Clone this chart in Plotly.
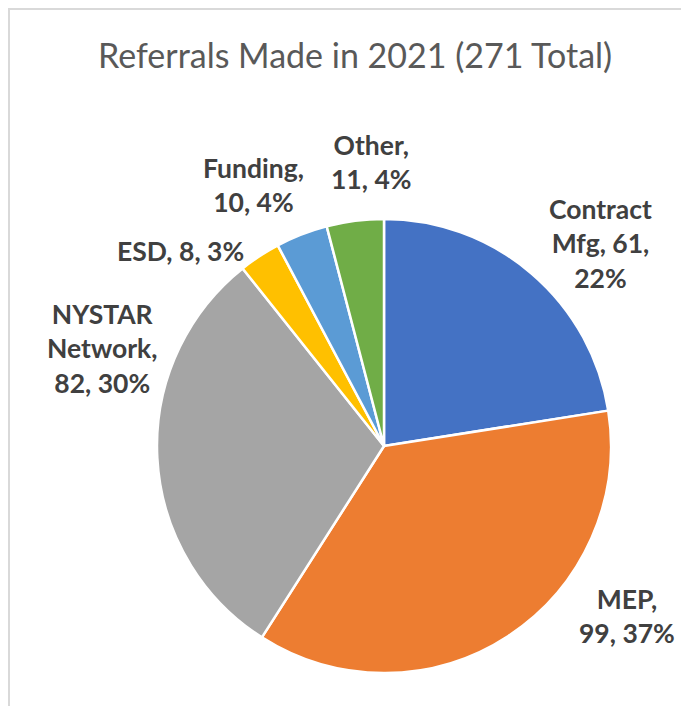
import plotly.graph_objects as go

W, H = 689, 706
OFF = 8  # page body margin offset

categories = ["Contract Mfg", "MEP", "NYSTAR Network", "ESD", "Funding", "Other"]
values = [61, 99, 82, 8, 10, 11]
pct_labels = ["22%", "37%", "30%", "3%", "4%", "4%"]
colors = ["#4472C4", "#ED7D31", "#A5A5A5", "#FFC000", "#5B9BD5", "#70AD47"]
title_text = "Referrals Made in 2021 (271 Total)"

# label text layout (line breaks as in the reference)
label_texts = [
    "Contract<br>Mfg, {v},<br>{p}",
    "MEP,<br>{v}, {p}",
    "NYSTAR<br>Network,<br>{v}, {p}",
    "ESD, {v}, {p}",
    "Funding,<br>{v}, {p}",
    "Other,<br>{v}, {p}",
]
# label centers in window pixels (x, y from top)
label_pos = [(600, 243), (627, 616), (102, 348), (181, 251), (253, 185), (371, 162)]

cx, cy, r = 384 - OFF, 446 - OFF, 227


def px(x):
    return (x - OFF) / W


def py(y):
    return 1 - (y - OFF) / H


fig = go.Figure(go.Pie(
    labels=categories,
    values=values,
    sort=False,
    direction="clockwise",
    rotation=0,
    marker=dict(colors=colors, line=dict(color="white", width=2.5)),
    textinfo="none",
    hoverinfo="label+value+percent",
    showlegend=False,
    domain=dict(x=[(cx - r) / W, (cx + r) / W], y=[1 - (cy + r) / H, 1 - (cy - r) / H]),
))

annotations = []
for tmpl, v, p, (x, y) in zip(label_texts, values, pct_labels, label_pos):
    annotations.append(dict(
        text="<b>" + tmpl.format(v=v, p=p) + "</b>",
        x=px(x), y=py(y), xref="paper", yref="paper",
        xanchor="center", yanchor="middle", showarrow=False, align="center",
        font=dict(family="Lato, 'Open Sans', sans-serif", size=26.5, color="#404040"),
    ))

annotations.append(dict(
    text=title_text, x=px(355), y=py(54), xref="paper", yref="paper",
    xanchor="center", yanchor="middle", showarrow=False,
    font=dict(family="Lato, 'Open Sans', sans-serif", size=34, color="#595959"),
))

fig.update_layout(
    width=W, height=H,
    margin=dict(l=0, r=0, t=0, b=0),
    paper_bgcolor="white",
    annotations=annotations,
    shapes=[dict(type="rect", xref="paper", yref="paper",
                 x0=1 / W, x1=1.05, y0=-0.05, y1=1 - 1 / H,
                 line=dict(color="#D9D9D9", width=2), fillcolor="rgba(0,0,0,0)")],
)

fig.write_html("out.html")
